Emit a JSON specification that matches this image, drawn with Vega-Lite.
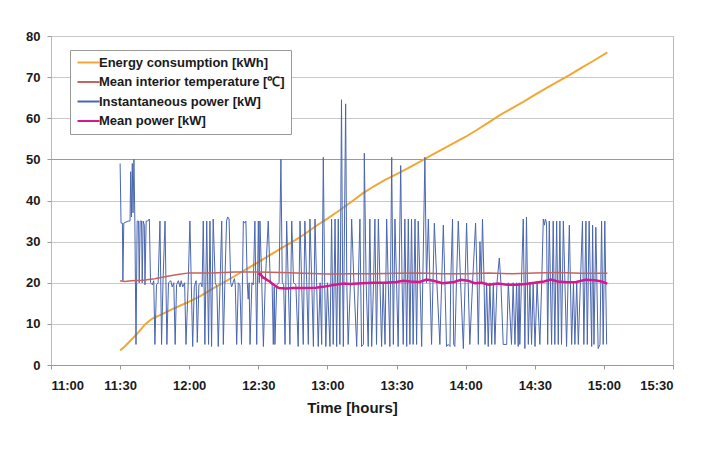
{
  "$schema": "https://vega.github.io/schema/vega-lite/v6.json",
  "width": 622,
  "height": 329,
  "autosize": {"type": "none"},
  "padding": {"left": 51, "top": 36, "right": 38, "bottom": 85},
  "background": "white",
  "datasets": {
    "energy": [
      {"t":30,"v":3.5},{"t":32,"v":4.5},{"t":35,"v":6.2},{"t":38,"v":8},{"t":41,"v":10},{"t":44,"v":11.3},{"t":48,"v":12.3},{"t":52,"v":13.4},{"t":56,"v":14.4},{"t":60,"v":15.4},{"t":65,"v":16.8},{"t":70,"v":18.5},{"t":75,"v":20.1},{"t":80,"v":21.7},{"t":85,"v":23.4},{"t":90,"v":25},{"t":95,"v":26.7},{"t":100,"v":28.4},{"t":105,"v":30},{"t":110,"v":31.8},{"t":115,"v":33.8},{"t":120,"v":35.6},{"t":125,"v":37.5},{"t":130,"v":39.5},{"t":135,"v":41.6},{"t":140,"v":43.4},{"t":145,"v":45},{"t":150,"v":46.4},{"t":155,"v":47.9},{"t":160,"v":49.4},{"t":165,"v":51},{"t":170,"v":52.5},{"t":175,"v":54},{"t":180,"v":55.5},{"t":185,"v":57.2},{"t":190,"v":59},{"t":195,"v":60.8},{"t":200,"v":62.4},{"t":205,"v":64},{"t":210,"v":65.7},{"t":215,"v":67.3},{"t":220,"v":68.9},{"t":225,"v":70.5},{"t":230,"v":72.2},{"t":235,"v":73.8},{"t":241.5,"v":76}
    ],
    "temp": [
      {"t":30,"v":20.5},{"t":32,"v":20.3},{"t":35,"v":20.5},{"t":40,"v":20.6},{"t":45,"v":21},{"t":50,"v":21.5},{"t":55,"v":22},{"t":60,"v":22.4},{"t":70,"v":22.4},{"t":80,"v":22.6},{"t":90,"v":22.6},{"t":100,"v":22.5},{"t":110,"v":22.3},{"t":120,"v":22.1},{"t":130,"v":22.2},{"t":140,"v":22.2},{"t":150,"v":22.3},{"t":160,"v":22.4},{"t":170,"v":22.2},{"t":180,"v":22.2},{"t":190,"v":22.4},{"t":200,"v":22.2},{"t":210,"v":22.4},{"t":220,"v":22.5},{"t":230,"v":22.3},{"t":241.5,"v":22.3}
    ],
    "inst": [
      {"t":30,"v":49},{"t":30.4,"v":34.5},{"t":31.0,"v":34.5},{"t":31.2,"v":20.5},{"t":31.6,"v":34.5},{"t":33.5,"v":35},{"t":34.3,"v":35},{"t":34.6,"v":47},{"t":34.9,"v":36},{"t":35.3,"v":49},{"t":35.6,"v":37},{"t":36.0,"v":50},{"t":36.4,"v":35},{"t":36.9,"v":5},{"t":37.4,"v":35},{"t":38.0,"v":35},{"t":38.3,"v":20},{"t":38.7,"v":35},{"t":39.3,"v":35},{"t":39.6,"v":20},{"t":40.0,"v":35},{"t":40.5,"v":34},{"t":40.8,"v":19.5},{"t":41.3,"v":35},{"t":42.0,"v":35},{"t":42.7,"v":35.5},{"t":43.2,"v":20},{"t":44.0,"v":19.5},{"t":44.6,"v":20.5},
      {"t":45.1,"v":5},{"t":45.8,"v":19.5},{"t":46.5,"v":20},{"t":47.3,"v":35},{"t":48.0,"v":5},{"t":48.6,"v":20},{"t":49.5,"v":35},{"t":50.3,"v":5},{"t":51.0,"v":20},{"t":52.0,"v":20.5},{"t":52.6,"v":19},{"t":53.3,"v":20},{"t":53.9,"v":5},{"t":54.5,"v":19.5},{"t":55.3,"v":20.5},{"t":56.0,"v":19},{"t":56.5,"v":20.5},{"t":57.2,"v":19},{"t":58.0,"v":20},{"t":58.6,"v":5},{"t":59.5,"v":19},{"t":60.3,"v":35},{"t":61.5,"v":4.5},{"t":62.2,"v":19},{"t":63.0,"v":20.5},{"t":63.5,"v":5.5},{"t":64.2,"v":19.5},{"t":65.0,"v":20},{"t":65.6,"v":19},{"t":66.1,"v":35},{"t":66.8,"v":5},{"t":67.6,"v":35},{"t":68.4,"v":5},{"t":69.0,"v":35},{"t":69.7,"v":4.5},{"t":70.4,"v":35.5},{"t":71.3,"v":20},{"t":72.0,"v":19},{"t":72.6,"v":4.5},{"t":73.4,"v":20},{"t":74.1,"v":35},{"t":74.8,"v":5},{"t":75.5,"v":20.5},{"t":76.2,"v":35},{"t":76.7,"v":36},{"t":77.3,"v":35.5},{"t":78.0,"v":20},{"t":78.4,"v":19},{"t":79.0,"v":20},{"t":79.6,"v":21},{"t":80.0,"v":19.5},{"t":80.6,"v":5},{"t":81.3,"v":20},{"t":82.0,"v":19.5},{"t":82.7,"v":5},{"t":83.5,"v":35},{"t":84.0,"v":34.5},{"t":84.6,"v":35},{"t":85.2,"v":20},{"t":85.6,"v":16},{"t":86.0,"v":20},{"t":86.4,"v":5},{"t":87.2,"v":20},{"t":87.8,"v":19.5},
      {"t":88.5,"v":35},{"t":89.3,"v":5},{"t":90.0,"v":35},{"t":90.4,"v":20},{"t":90.7,"v":35},{"t":91.5,"v":20},{"t":92.2,"v":4.5},{"t":93.0,"v":20},{"t":94.3,"v":35},{"t":95.2,"v":20},{"t":96.0,"v":19.5},{"t":96.5,"v":5},{"t":96.9,"v":19},{"t":97.2,"v":5},{"t":98.0,"v":19.5},{"t":99.0,"v":20},{"t":99.8,"v":50},{"t":100.4,"v":20},{"t":101.0,"v":19.5},{"t":101.6,"v":5},{"t":102.3,"v":35},{"t":103.0,"v":20},{"t":103.7,"v":5},{"t":104.5,"v":35},{"t":105.3,"v":20},{"t":106.3,"v":19.5},{"t":107.3,"v":4.5},{"t":108.1,"v":35},{"t":108.8,"v":20},{"t":109.5,"v":5},{"t":110.2,"v":35},{"t":111.0,"v":20},{"t":111.7,"v":5},{"t":112.4,"v":35.5},{"t":113.2,"v":20},{"t":113.9,"v":4.5},
      {"t":114.6,"v":35.5},{"t":115.3,"v":20},{"t":116.0,"v":4.5},{"t":116.8,"v":20},{"t":117.5,"v":5},{"t":118.2,"v":50.5},{"t":118.8,"v":20},{"t":119.3,"v":4.5},{"t":120.0,"v":20},{"t":121.1,"v":4.5},{"t":121.8,"v":35.5},{"t":122.5,"v":5},{"t":123.3,"v":35.5},{"t":123.6,"v":20},{"t":124.0,"v":4.5},{"t":124.7,"v":35.5},{"t":125.4,"v":5},{"t":126.1,"v":64.5},{"t":126.6,"v":20},{"t":126.9,"v":4.5},{"t":127.9,"v":63.5},{"t":128.4,"v":20},{"t":129.0,"v":5},{"t":130.0,"v":20},{"t":130.5,"v":35.5},{"t":131.5,"v":20},{"t":132.7,"v":4.5},{"t":133.4,"v":20},{"t":134.1,"v":35.5},{"t":134.8,"v":4.5},{"t":135.6,"v":5},{"t":136.0,"v":51.5},{"t":136.8,"v":20},{"t":137.7,"v":4.5},{"t":138.4,"v":35.5},{"t":139.2,"v":4.5},{"t":140.0,"v":20},{"t":140.6,"v":35.5},{"t":141.3,"v":5},{"t":142.1,"v":35.5},{"t":142.8,"v":20},{"t":143.5,"v":4.5},{"t":144.2,"v":20},{"t":145.0,"v":5},{"t":145.7,"v":35.5},{"t":146.4,"v":20},{"t":147.1,"v":4.5},{"t":147.9,"v":50.5},{"t":148.6,"v":5},{"t":149.3,"v":35.5},{"t":150.0,"v":20},{"t":150.7,"v":4.5},{"t":151.8,"v":48.5},{"t":152.4,"v":20},{"t":152.9,"v":5},{"t":153.6,"v":35.5},{"t":154.4,"v":4.5},{"t":155.1,"v":35.5},{"t":155.8,"v":5},{"t":156.5,"v":35.5},
      {"t":157.2,"v":5},{"t":158.0,"v":35.5},{"t":158.7,"v":5},{"t":159.4,"v":35},{"t":160.2,"v":20},{"t":160.9,"v":4.5},{"t":162.3,"v":50.5},{"t":163.0,"v":20},{"t":163.8,"v":35.5},{"t":164.5,"v":20},{"t":165.2,"v":5},{"t":166.4,"v":34.5},{"t":167.5,"v":20},{"t":168.8,"v":5},{"t":170.3,"v":34},{"t":171.0,"v":20},{"t":171.7,"v":4.5},{"t":172.4,"v":5},{"t":173.2,"v":4.5},{"t":173.5,"v":20},{"t":174.3,"v":35.5},{"t":174.8,"v":5},{"t":175.3,"v":4.5},{"t":176.0,"v":20},{"t":176.8,"v":35},{"t":177.8,"v":20},{"t":179.0,"v":4},{"t":180.4,"v":34.5},{"t":181.1,"v":20},{"t":181.8,"v":5},{"t":183.0,"v":20},{"t":184.3,"v":34.5},{"t":185.0,"v":20},{"t":185.5,"v":5},{"t":186.2,"v":30},{"t":186.8,"v":20},{"t":187.3,"v":35.5},{"t":188.0,"v":20},{"t":188.4,"v":5},{"t":189.1,"v":20},{"t":189.8,"v":4.5},{"t":190.5,"v":20},{"t":191.3,"v":5},{"t":192.0,"v":20},{"t":192.7,"v":5},{"t":193.6,"v":20},{"t":194.6,"v":26},{"t":195.3,"v":20},{"t":196.3,"v":5},{"t":197.8,"v":5},{"t":198.5,"v":20},{"t":199.9,"v":5},
      {"t":200.6,"v":20},{"t":201.4,"v":5},{"t":202.1,"v":20},{"t":202.8,"v":4.5},{"t":203.2,"v":20},{"t":203.5,"v":5},{"t":204.2,"v":20},{"t":205.0,"v":35.5},{"t":205.7,"v":4},{"t":206.4,"v":36},{"t":207.2,"v":5},{"t":207.9,"v":20},{"t":208.6,"v":5},{"t":209.3,"v":20},{"t":210.1,"v":4.5},{"t":211.0,"v":20},{"t":212.2,"v":5},{"t":213.0,"v":20},{"t":213.7,"v":35.5},{"t":214.2,"v":34},{"t":214.6,"v":35.5},{"t":215.1,"v":34.5},{"t":215.6,"v":5},{"t":216.3,"v":35},{"t":217.3,"v":5},{"t":218.0,"v":35},{"t":218.7,"v":5},{"t":219.5,"v":35},{"t":220.2,"v":5},{"t":220.9,"v":35},{"t":221.6,"v":5},{"t":222.4,"v":35},{"t":223.8,"v":4.5},{"t":225.0,"v":34},{"t":226.0,"v":5},{"t":226.8,"v":20},{"t":227.4,"v":5},{"t":228.2,"v":20},{"t":228.9,"v":5},{"t":229.8,"v":20},{"t":230.7,"v":35},{"t":231.3,"v":5},{"t":232.2,"v":35},{"t":232.8,"v":5},{"t":233.6,"v":35},{"t":234.7,"v":4.5},{"t":235.1,"v":34},{"t":235.7,"v":5},{"t":236.5,"v":33.5},{"t":237.5,"v":4},{"t":238.3,"v":5},{"t":239.0,"v":35},{"t":239.7,"v":5},{"t":240.4,"v":35},{"t":241.2,"v":5}
    ],
    "mean": [
      {"t":90,"v":22.3},{"t":91,"v":22},{"t":92,"v":21.3},{"t":93,"v":21},{"t":94,"v":20.6},{"t":95,"v":20.3},{"t":96,"v":19.8},{"t":97,"v":19.4},{"t":98,"v":19},{"t":99,"v":18.7},{"t":102,"v":18.6},{"t":105,"v":18.7},{"t":110,"v":18.7},{"t":115,"v":18.8},{"t":118,"v":19},{"t":121,"v":19.3},{"t":124,"v":19.6},{"t":127,"v":19.8},{"t":130,"v":19.7},{"t":135,"v":19.9},{"t":140,"v":20},{"t":145,"v":20},{"t":150,"v":20.2},{"t":153,"v":20.5},{"t":156,"v":20.3},{"t":160,"v":20.2},{"t":163,"v":20.8},{"t":166,"v":20.5},{"t":170,"v":19.9},{"t":175,"v":20.2},{"t":178,"v":20.7},{"t":181,"v":20.5},{"t":184,"v":19.9},{"t":187,"v":20},{"t":190,"v":19.5},{"t":194,"v":19.8},{"t":198,"v":19.5},{"t":202,"v":19.5},{"t":206,"v":19.7},{"t":210,"v":20},{"t":214,"v":20.3},{"t":217,"v":20.8},{"t":220,"v":20.3},{"t":224,"v":20.1},{"t":228,"v":20.2},{"t":232,"v":20.7},{"t":236,"v":20.6},{"t":239,"v":20.3},{"t":241.5,"v":19.8}
    ]
  },
  "encoding": {
    "x": {
      "field": "t", "type": "quantitative",
      "scale": {"domain": [0, 270], "nice": false, "zero": false},
      "axis": {
        "values": [0, 30, 60, 90, 120, 150, 180, 210, 240, 270],
        "labelExpr": "timeFormat(datetime(2000,0,1,11,datum.value),'%H:%M')",
        "title": "Time [hours]",
        "grid": false,
        "domainColor": "#999999",
        "tickColor": "#999999",
        "tickSize": 4,
        "labelPadding": 10,
        "titlePadding": 8,
        "titleX": 301
      }
    },
    "y": {
      "field": "v", "type": "quantitative",
      "scale": {"domain": [0, 80], "nice": false},
      "axis": {
        "values": [0, 10, 20, 30, 40, 50, 60, 70, 80],
        "title": null,
        "domain": false,
        "grid": true,
        "gridColor": {"condition": {"test": "datum.value === 50", "value": "#9a9a9a"}, "value": "#c8c8c8"},
        "tickColor": "#999999",
        "tickSize": 4,
        "labelPadding": 7
      }
    }
  },
  "layer": [
    {
      "data": {"name": "energy"},
      "mark": {"type": "line", "strokeWidth": 2},
      "encoding": {
        "color": {
          "datum": "Energy consumption [kWh]",
          "scale": {
            "domain": ["Energy consumption [kWh]", "Mean interior temperature [℃]", "Instantaneous power [kW]", "Mean power [kW]"],
            "range": ["#F2A734", "#C8625E", "#4A66B0", "#D4198C"]
          },
          "legend": {
            "orient": "none",
            "legendX": 19,
            "legendY": 14,
            "title": null,
            "symbolType": "M-1,0H3.4",
            "symbolSize": 100,
            "labelOffset": 10,
            "rowPadding": 5.5,
            "padding": 6,
            "strokeColor": "#999999",
            "fillColor": "white"
          }
        }
      }
    },
    {
      "data": {"name": "inst"},
      "mark": {"type": "line", "strokeWidth": 1},
      "encoding": {"color": {"datum": "Instantaneous power [kW]"}}
    },
    {
      "data": {"name": "temp"},
      "mark": {"type": "line", "strokeWidth": 1.5},
      "encoding": {"color": {"datum": "Mean interior temperature [℃]"}}
    },
    {
      "data": {"name": "mean"},
      "mark": {"type": "line", "strokeWidth": 2.5},
      "encoding": {"color": {"datum": "Mean power [kW]"}}
    }
  ],
  "config": {
    "view": {"stroke": "#b8b8b8", "strokeWidth": 1},
    "font": "Liberation Sans",
    "axis": {
      "labelFont": "Liberation Sans",
      "labelFontWeight": "bold",
      "labelFontSize": 13,
      "labelColor": "#1a1a1a",
      "titleFont": "Liberation Sans",
      "titleFontWeight": "bold",
      "titleFontSize": 15,
      "titleColor": "#1a1a1a"
    },
    "legend": {
      "labelFont": "Liberation Sans",
      "labelFontWeight": "bold",
      "labelFontSize": 13,
      "labelColor": "#1a1a1a",
      "symbolStrokeWidth": 2,
      "labelLimit": 400
    }
  }
}
